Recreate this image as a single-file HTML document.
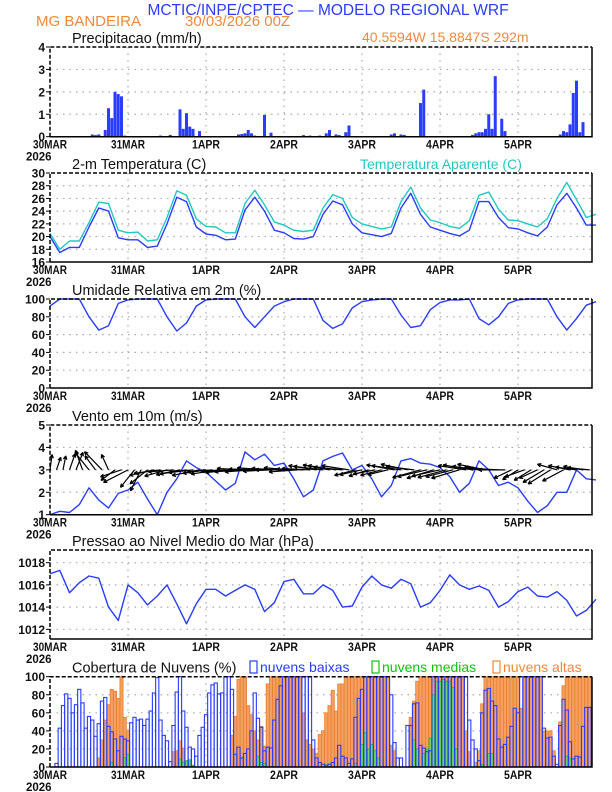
<!DOCTYPE html>
<html><head><meta charset="utf-8">
<style>
html,body{margin:0;padding:0;background:#fff;}
svg{display:block;font-family:"Liberation Sans",sans-serif;}
</style></head>
<body>
<svg id="chart" width="612" height="792" viewBox="0 0 612 792" xmlns="http://www.w3.org/2000/svg">
<text x="328" y="15" text-anchor="middle" font-size="15.5" fill="#2a3cff">MCTIC/INPE/CPTEC — MODELO REGIONAL WRF</text>
<text x="36" y="26" font-size="15" fill="#f0883a">MG BANDEIRA</text>
<text x="185" y="26" font-size="15" fill="#f0883a">30/03/2026 00Z</text>
<text x="362" y="42" font-size="14" fill="#f0883a">40.5594W 15.8847S 292m</text>
<g id="plots"></g>
</svg>
<script>
const days=["30MAR","31MAR","1APR","2APR","3APR","4APR","5APR"];
const precipHours=[11,13,14,15,17,18,19,20,21,22,23,34,37,40,41,42,43,44,46,50,58,59,60,61,62,63,65,66,68,78,80,83,85,86,88,89,91,92,105,106,108,109,114,115,130,131,132,133,134,135,136,137,139,140,157,158,159,160,161,162,163,164];
const precipVals=[0.03,0.1,0.07,0.1,0.3,1.27,0.83,2.0,1.9,1.8,0.05,0.05,0.08,1.22,0.35,1.05,0.45,0.35,0.25,0.02,0.1,0.12,0.15,0.3,0.15,0.05,0.03,0.97,0.18,0.07,0.05,0.05,0.15,0.3,0.1,0.07,0.2,0.5,0.1,0.15,0.1,0.08,1.5,2.1,0.08,0.15,0.2,0.2,0.35,1.0,0.35,2.7,0.8,0.25,0.1,0.25,0.2,0.55,1.95,2.5,0.2,0.65];
const temp=[20,17.5,18.3,18.3,21.5,24.5,24,19.8,19.5,19.5,18.3,18.5,22,26.2,25.5,21.5,20.4,20.2,19.5,19.6,24.2,26.2,24,21,20.6,19.7,19.6,20,23.5,25.6,25,22,20.6,20.3,20,20.5,24.5,26.8,23.5,21.5,21,20.5,20.1,21,25.5,25.5,23,21.4,21.2,20.6,20.1,21.5,25,26.8,24.5,21.8,21.8];
const tempApp=[20.5,18,19.3,19.3,22.2,25.4,25.2,21,20.6,20.7,19.3,19.5,23,27.2,26.5,22.8,21.6,21.5,20.6,20.6,25.2,27.3,25,22.3,21.8,21,20.8,21,24.5,26.6,26,23,22,21.6,21.2,21.5,25.5,27.8,24.5,22.6,22.2,21.6,21.3,22.5,26.5,27,24.3,22.6,22.5,22,21.5,22.8,26,28.5,25.8,23,23.5];
const rh=[92,100,100,100,80,65,70,95,99,100,100,100,80,64,73,92,99,100,100,100,80,68,80,92,97,100,100,100,76,67,72,90,97,99,100,100,82,68,70,88,96,99,99,100,78,71,80,95,99,100,100,100,80,65,78,93,97];
const windSpd=[1.0,1.15,1.1,1.45,2.2,1.65,1.3,1.95,2.1,2.45,1.7,1.0,2.0,2.6,3.4,3.1,2.9,2.5,2.1,2.4,3.8,3.45,3.7,3.2,3.3,2.6,1.8,2.1,3.4,3.6,3.75,3.0,3.2,2.6,1.8,2.3,3.4,3.5,3.3,3.25,3.1,2.7,2.0,2.4,3.4,3.0,2.3,2.45,2.2,1.6,1.1,1.4,2.0,2.0,3.0,2.6,2.55];
const windU=[0.3,0.6,0.4,0.8,1.0,-1,-2,-1.5,-2.5,-1,-2,-3,-3.5,-2,-1.5,-2.5,-3.5,-3.8,-3.2,-3.6,-3.4,-3.8,-3.5,-3.9,-3.3,-3.6,-4,-3.5,-3.8,-3.4,-4,-3.8,-4.2,-3.9,-4,-3.7,-4.1,-3.8,-4,-3.9,-4,-4,-4.2,-3.8,-4,-4.1,-3.9,-3,-3.2,-2.8,-3.1,-3,-2.9,-4,-4.2,-3.8,-4,-4,-4.2,-3.8,-4,-4.1,-3.9,-4,-4,-4.2,-3.8,-4,-3.9,-4.1,-3.8,-2.5,-2.2,-2.8,-2.4,-2.6,-3,-3.2,-2.8,-3,-3.1,-3,-2.8,-3.2];
const windV=[2.2,1.8,2.0,2.3,2.5,2.8,2.5,2.0,2.6,2.2,-1.5,-1,-1.8,-2.5,-3,-2,-0.8,-0.5,-0.9,-0.3,-0.7,-0.6,-0.4,-0.8,-0.5,-0.3,-0.6,-0.2,-0.4,-0.3,0.2,-0.3,0.1,0.3,-0.2,0.2,0,0.3,-0.3,0.1,0.2,0.6,0.5,0.7,0.6,0.4,0.6,-0.8,-0.7,-0.9,-0.6,-0.8,-0.7,0.7,0.6,0.8,0.5,-1.1,-1,-1.2,-0.9,-1.1,-1,-1.2,0.6,0.7,0.5,0.8,0.4,0.2,0,-1.2,-1.4,-1,-1.5,-1.2,-1.8,-2,0.8,-1.6,0.6,0.4,0.5,0.3];
const pressure=[1017,1017.3,1015.3,1016.2,1016.8,1016.6,1014,1012.8,1016.0,1015.3,1014.2,1015,1016,1014.3,1012.5,1014.3,1015.6,1015.6,1015.0,1015.5,1016.0,1015.6,1013.6,1014.4,1016.3,1016.5,1015.2,1015.2,1016,1015.5,1014.0,1014.1,1015.8,1016.8,1016.0,1015.7,1016.5,1016.1,1014.0,1014.4,1015.5,1016.9,1016.0,1015.6,1015.9,1015.5,1014.0,1014.5,1015.4,1015.8,1015.0,1014.9,1015.4,1014.6,1013.2,1013.7,1014.7];
const cloudLow=[0,0,4,43,68,81,76,60,69,86,71,43,56,52,34,48,73,77,45,39,31,18,34,31,29,49,55,52,53,46,53,62,82,99,52,35,29,6,46,83,100,62,44,22,20,12,35,44,58,82,91,93,81,82,100,100,86,14,22,10,15,20,40,82,54,44,18,22,21,52,75,90,100,100,100,100,100,100,100,100,100,30,10,5,3,2,3,5,10,24,12,10,4,9,55,76,86,100,100,100,100,100,100,100,100,80,27,10,10,0,46,46,70,71,24,21,17,18,100,100,100,100,100,100,100,100,100,100,100,52,30,20,7,60,85,87,73,68,31,22,25,33,45,65,60,100,100,100,100,100,100,100,43,32,33,12,3,46,75,63,28,9,12,11,45,66,66];
const cloudMid=[0,0,0,0,0,0,0,0,0,0,0,0,0,0,0,0,0,0,0,5,0,0,0,10,14,0,0,0,0,0,0,0,0,0,0,0,0,0,0,0,9,5,7,8,2,0,0,0,0,0,0,0,0,0,0,0,0,0,0,0,0,0,0,0,12,5,4,0,0,0,0,0,0,0,0,0,0,0,0,0,0,0,0,0,0,0,0,0,0,0,0,0,0,0,4,0,25,38,20,25,18,10,0,0,0,0,0,0,0,0,0,0,30,20,0,15,20,32,80,95,95,97,95,95,88,20,0,0,0,0,0,0,0,3,0,15,15,0,0,0,0,0,0,0,0,0,0,0,0,0,0,0,0,0,0,0,0,0,0,12,10,0,0,0,0,0];
const cloudHigh=[0,0,0,0,0,0,0,0,0,0,0,0,0,0,0,10,30,52,69,86,84,76,100,55,40,0,0,0,0,0,0,0,0,0,0,0,0,0,17,18,29,21,0,0,0,0,0,0,0,0,0,0,0,0,0,0,35,56,97,100,100,68,58,40,30,45,23,92,100,100,100,100,100,100,100,100,100,100,60,30,25,20,15,36,40,60,68,85,62,92,92,100,100,100,100,100,100,100,100,100,100,100,100,100,100,24,18,0,0,0,0,55,73,95,100,100,100,100,100,100,100,100,100,100,100,100,100,100,40,17,0,5,18,70,100,100,100,100,100,100,100,100,100,100,100,65,100,100,100,100,100,100,40,40,40,18,0,50,90,100,100,100,100,100,100,100,100];

const NS="http://www.w3.org/2000/svg";
const root=document.getElementById("plots");
const X0=50,X1=592,HPX=3.25;
function xh(h){return X0+h*HPX;}
function mk(tag,attrs,parent){const e=document.createElementNS(NS,tag);for(const k in attrs)e.setAttribute(k,attrs[k]);(parent||root).appendChild(e);return e;}
function txt(s,attrs,parent){const e=mk("text",attrs,parent);e.textContent=s;return e;}

function panel(name,top,bot,vmin,vmax,ticks,title,opts){
  const g=mk("g",{});
  
  
  const y=v=>bot-(v-vmin)/(vmax-vmin)*(bot-top);
  // grid
  ticks.forEach(t=>{
    if(Math.abs(y(t)-top)>1&&Math.abs(y(t)-bot)>1){
      const l=mk("line",{x1:X0,x2:X1,y1:y(t),y2:y(t),stroke:"#aaa","stroke-width":1.2,"stroke-dasharray":"1.5,5"},g);
      
      
    }
    const tl=txt(String(t),{x:45,y:y(t)+4.5,"text-anchor":"end","font-size":12,"font-weight":"bold",fill:"#111"},g);
    
    
    const tk=mk("line",{x1:X0-4,x2:X0,y1:y(t),y2:y(t),stroke:"#000","stroke-width":1},g);
    
    
  });
  days.forEach((d,i)=>{
    const x=xh(i*24);
    if(i>0){
      const l=mk("line",{x1:x,x2:x,y1:top,y2:bot,stroke:"#aaa","stroke-width":1.2,"stroke-dasharray":"1.5,5"},g);
      
      
    }
    const tl=txt(d,{x:x,y:bot+12,"text-anchor":"middle","font-size":11.5,"font-weight":"bold",fill:"#111",textLength:d.length>4?34:28,lengthAdjust:"spacingAndGlyphs"},g);
    
    
  });
  const yr=txt("2026",{x:xh(0)-24,y:bot+24,"font-size":11.5,"font-weight":"bold",fill:"#111"},g);
  
  
  const t=txt(title,{x:72,y:top-4,"font-size":14.5,fill:"#111"},g);
  
  
  const plot=mk("g",{},g);
  
  
  // frame drawn later
  return {g,plot,y,top,bot,frame:()=>{
    const f1=mk("path",{d:`M${X0} ${bot}L${X0} ${top}L${X1} ${top}`,fill:"none",stroke:"#000","stroke-width":1.5,"stroke-dasharray":"4,2"},g);
    
    
    const f2=mk("path",{d:`M${X1} ${top}L${X1} ${bot}L${X0} ${bot}`,fill:"none",stroke:"#000","stroke-width":1.5},g);
    
    
  }};
}
function line(p,vals,step,color,name,w){
  const pts=vals.map((v,i)=>xh(i*step).toFixed(1)+","+p.y(v).toFixed(1)).join(" ");
  const e=mk("polyline",{points:pts,fill:"none",stroke:color,"stroke-width":w||1.4,"stroke-linejoin":"round"},p.plot);
  
  
}

// Precip
const P1=panel("precip",47,136.7,0,4,[0,1,2,3,4],"Precipitacao (mm/h)");
precipHours.forEach((h,i)=>{
  const yv=P1.y(precipVals[i]);
  const b=mk("rect",{x:xh(h)-1.5,y:yv,width:3,height:P1.bot-yv,fill:"#2a3cff"},P1.plot);
  
  
});
P1.frame();

// Temperature
const P2=panel("temp",173,262,16,30,[16,18,20,22,24,26,28,30],"2-m Temperatura (C)");
const ta=txt("Temperatura Aparente (C)",{x:360,y:169,"font-size":14,fill:"#22c8c0"},P2.g);


line(P2,tempApp,3,"#22c8c0","apparent-temp-line");
line(P2,temp,3,"#2a3cff","temp-line");
P2.frame();

// RH
const P3=panel("rh",299,388,0,100,[0,20,40,60,80,100],"Umidade Relativa em 2m (%)");
line(P3,rh,3,"#2a3cff","rh-line");
P3.frame();

// Wind
const P4=panel("wind",425,514.7,1,5,[1,2,3,4,5],"Vento em 10m (m/s)");
line(P4,windSpd,3,"#2a3cff","wind-speed-line");
const K=7;
windU.forEach((u,i)=>{
  const x=xh(i*2),y0=P4.y(3);
  const x2=x+u*K,y2=y0-windV[i]*K;
  const ang=Math.atan2(y2-y0,x2-x);
  const hl=4;
  const d=`M${x} ${y0}L${x2} ${y2}M${x2} ${y2}L${x2-hl*Math.cos(ang-0.45)} ${y2-hl*Math.sin(ang-0.45)}M${x2} ${y2}L${x2-hl*Math.cos(ang+0.45)} ${y2-hl*Math.sin(ang+0.45)}`;
  const a=mk("path",{d:d,stroke:"#000","stroke-width":1.2,fill:"none"},P4.plot);
  
  
});
P4.frame();

// Pressure
const P5=panel("pressure",550,639,1011.13,1019.14,[1012,1014,1016,1018],"Pressao ao Nivel Medio do Mar (hPa)");
line(P5,pressure,3,"#2a3cff","pressure-line");
P5.frame();

// Clouds
const P6=panel("cloud",676.7,767,0,100,[0,20,40,60,80,100],"Cobertura de Nuvens (%)");
cloudHigh.forEach((v,i)=>{
  if(v<=0)return;
  const yv=P6.y(v);
  const b=mk("rect",{x:xh(i)-1.6,y:yv,width:3.2,height:P6.bot-yv,fill:"#f5a060",stroke:"#e88030","stroke-width":0.8},P6.plot);
  
  
});
cloudMid.forEach((v,i)=>{
  if(v<=0)return;
  const yv=P6.y(v);
  const b=mk("rect",{x:xh(i)-1.2,y:yv,width:2.4,height:P6.bot-yv,fill:"#7ad070",stroke:"#10c010","stroke-width":0.8},P6.plot);
  
  
});
cloudLow.forEach((v,i)=>{
  if(v<=0)return;
  const yv=P6.y(v);
  const b=mk("rect",{x:xh(i)-1.6,y:yv,width:3.2,height:P6.bot-yv,fill:"none",stroke:"#2a3cff","stroke-width":1.1},P6.plot);
  
  
});
P6.frame();
const legend=[["nuvens baixas","#2a3cff",250],["nuvens medias","#10c010",372],["nuvens altas","#f0883a",493]];
legend.forEach(l=>{
  const s=mk("rect",{x:l[2],y:661,width:7,height:12,fill:"none",stroke:l[1],"stroke-width":1.2});
  
  
  const t=txt(l[0],{x:l[2]+10,y:672,"font-size":14,fill:l[1]});
  
  
});
</script>
</body></html>
